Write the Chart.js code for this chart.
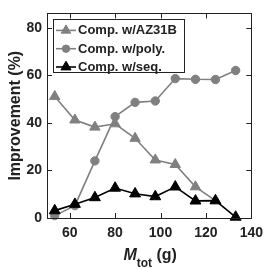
<!DOCTYPE html>
<html>
<head>
<meta charset="utf-8">
<script src="https://cdn.jsdelivr.net/npm/chart.js@4"></script>
<style>
  html, body { margin: 0; padding: 0; background: #fff; }
  #wrap { width: 270px; height: 269px; }
</style>
</head>
<body>
<div id="wrap"><canvas id="chart" width="270" height="269"></canvas></div>
<script>
// data
const mTot = [53.4, 62.3, 71.1, 80.0, 88.8, 97.7, 106.5, 115.4, 124.2, 133.1];
const vsAZ31B = [51.1, 41.2, 38.2, 39.6, 33.5, 24.4, 22.5, 13.1, 7.3, null];
const vsPoly = [1.0, 5.2, 24.0, 42.6, 48.6, 49.2, 58.6, 58.3, 58.2, 62.0];
const vsSeq = [3.1, 5.8, 8.6, 12.6, 10.2, 9.0, 13.1, 7.2, 7.3, 0.4];

const seriesNames = ["Comp. w/AZ31B", "Comp. w/poly.", "Comp. w/seq."];
const xTicks = [60, 80, 100, 120, 140];
const yTicks = [0, 20, 40, 60, 80];

const GRAY = "#808080";
const INK = "#222";
const FONT = "'Liberation Sans', Arial, sans-serif";

function pts(vals) {
    return mTot.map((x, i) => ({x: x, y: vals[i]}));
}

// inward ticks + frame, MATLAB style
const framePlugin = {
    id: "frame",
    afterDatasetsDraw(chart) {
        const {ctx, chartArea: a, scales} = chart;
        const len = 5;
        ctx.save();
        ctx.strokeStyle = INK;
        ctx.lineWidth = 1;
        ctx.beginPath();
        xTicks.forEach(v => {
            let px = Math.round(scales.x.getPixelForValue(v)) + 0.5;
            ctx.moveTo(px, a.bottom); ctx.lineTo(px, a.bottom - len);
            ctx.moveTo(px, a.top); ctx.lineTo(px, a.top + len);
        });
        yTicks.forEach(v => {
            let py = Math.round(scales.y.getPixelForValue(v)) + 0.5;
            ctx.moveTo(a.left, py); ctx.lineTo(a.left + len, py);
            ctx.moveTo(a.right, py); ctx.lineTo(a.right - len, py);
        });
        ctx.stroke();
        ctx.strokeRect(Math.round(a.left) + 0.5, Math.round(a.top) + 0.5,
            Math.round(a.right - a.left), Math.round(a.bottom - a.top));
        ctx.restore();
    }
};

// boxed legend inside the plot, upper left
const legendPlugin = {
    id: "boxLegend",
    afterDraw(chart) {
        const {ctx, chartArea: a} = chart;
        const bx = a.left + 6, by = a.top + 6, bw = 131, bh = 53;
        ctx.save();
        ctx.fillStyle = "#fff";
        ctx.fillRect(bx, by, bw, bh);
        ctx.strokeStyle = INK;
        ctx.lineWidth = 1;
        ctx.strokeRect(Math.round(bx) + 0.5, Math.round(by) + 0.5, bw, bh);
        ctx.font = "bold 13px " + FONT;
        ctx.textBaseline = "middle";
        chart.data.datasets.forEach((ds, i) => {
            let cy = by + 11 + i * 18.3;
            let x0 = bx + 3, x1 = bx + 23;
            ctx.strokeStyle = ds.borderColor;
            ctx.lineWidth = ds.borderWidth;
            ctx.beginPath();
            ctx.moveTo(x0, cy); ctx.lineTo(x1, cy);
            ctx.stroke();
            ctx.fillStyle = ds.pointBackgroundColor;
            ctx.strokeStyle = ds.pointBorderColor;
            ctx.lineWidth = 1;
            Chart.helpers.drawPoint(ctx, {
                pointStyle: ds.pointStyle, radius: ds.pointRadius - 0.5,
                rotation: 0, borderWidth: 1
            }, (x0 + x1) / 2, cy);
            ctx.fillStyle = INK;
            ctx.fillText(ds.label, bx + 25, cy + 0.5);
        });
        ctx.restore();
    }
};

// axis titles (M_tot with italic M and subscript)
const titlePlugin = {
    id: "titles",
    afterDraw(chart) {
        const {ctx, chartArea: a} = chart;
        ctx.save();
        ctx.fillStyle = INK;
        // y title
        ctx.translate(16, (a.top + a.bottom) / 2);
        ctx.rotate(-Math.PI / 2);
        ctx.font = "bold 16px " + FONT;
        ctx.textAlign = "center";
        ctx.textBaseline = "middle";
        ctx.fillText("Improvement (%)", 0, 0);
        ctx.restore();

        ctx.save();
        ctx.fillStyle = INK;
        ctx.textBaseline = "alphabetic";
        const fM = "italic bold 16px " + FONT;
        const fSub = "bold 12px " + FONT;
        const fG = "bold 16px " + FONT;
        ctx.font = fM; const wM = ctx.measureText("M").width;
        ctx.font = fSub; const wSub = ctx.measureText("tot").width;
        ctx.font = fG; const wG = ctx.measureText(" (g)").width;
        let x = (a.left + a.right) / 2 - (wM + wSub + wG) / 2 + 1;
        const base = 260;
        ctx.font = fM; ctx.fillText("M", x, base); x += wM;
        ctx.font = fSub; ctx.fillText("tot", x, base + 7); x += wSub;
        ctx.font = fG; ctx.fillText(" (g)", x, base);
        ctx.restore();
    }
};

function lineSet(label, vals, color, style, r, order) {
    return {
        label: label,
        data: pts(vals),
        borderColor: color,
        backgroundColor: color,
        pointBackgroundColor: color,
        pointBorderColor: color,
        borderWidth: 1.6,
        pointStyle: style,
        pointRadius: r,
        pointHoverRadius: r,
        pointBorderWidth: 1,
        tension: 0,
        spanGaps: false,
        clip: false,
        order: order
    };
}

new Chart(document.getElementById("chart"), {
    type: "line",
    data: {
        datasets: [
            lineSet(seriesNames[0], vsAZ31B, GRAY, "triangle", 6, 2),
            lineSet(seriesNames[1], vsPoly, GRAY, "circle", 4.2, 1),
            lineSet(seriesNames[2], vsSeq, "#000", "triangle", 6.3, 0)
        ]
    },
    options: {
        responsive: false,
        animation: false,
        events: [],
        layout: { padding: { top: 7, right: 13, left: 0, bottom: 0 } },
        plugins: {
            legend: { display: false },
            tooltip: { enabled: false }
        },
        scales: {
            x: {
                type: "linear",
                min: 50,
                max: 140,
                grid: { display: false, drawTicks: false },
                border: { display: false },
                afterBuildTicks: s => { s.ticks = xTicks.map(v => ({value: v})); },
                afterFit: s => { s.height = 51; },
                ticks: {
                    padding: 7,
                    color: INK,
                    font: { family: FONT, size: 14, weight: "bold" }
                }
            },
            y: {
                min: 0,
                max: 86,
                grid: { display: false, drawTicks: false },
                border: { display: false },
                afterBuildTicks: s => { s.ticks = yTicks.map(v => ({value: v})); },
                afterFit: s => { s.width = 47; },
                ticks: {
                    padding: 5,
                    color: INK,
                    font: { family: FONT, size: 14, weight: "bold" }
                }
            }
        }
    },
    plugins: [framePlugin, legendPlugin, titlePlugin]
});
</script>
</body>
</html>
